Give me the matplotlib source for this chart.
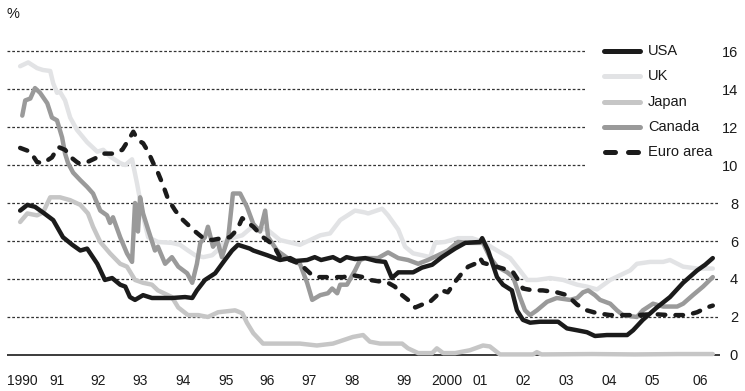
import matplotlib
matplotlib.use("Agg")
import matplotlib.pyplot as plt
from matplotlib.lines import Line2D

plt.rcParams['font.family'] = ['Liberation Sans', 'DejaVu Sans']

# Official / policy interest rates, %, by decimal year
usa_t = [1990.00, 1990.17, 1990.35, 1990.54, 1990.78, 1991.01, 1991.23, 1991.42, 1991.58, 1991.82,
         1992.00, 1992.17, 1992.36, 1992.48, 1992.59, 1992.71, 1992.90, 1993.11, 1993.35, 1993.58,
         1993.89, 1994.06, 1994.17, 1994.36, 1994.60, 1994.83, 1995.00, 1995.14, 1995.42, 1995.50,
         1995.83, 1996.13, 1996.37, 1996.50, 1996.77, 1996.95, 1997.10, 1997.38, 1997.55, 1997.70,
         1997.90, 1998.14, 1998.40, 1998.61, 1998.77, 1998.92, 1999.27, 1999.48, 1999.72, 1999.95,
         2000.26, 2000.50, 2000.85, 2000.90, 2001.04, 2001.25, 2001.39, 2001.60, 2001.72, 2001.86,
         2002.03, 2002.26, 2002.69, 2002.90, 2003.14, 2003.37, 2003.56, 2003.84, 2004.32, 2004.46,
         2004.69, 2005.02, 2005.33, 2005.64, 2005.97, 2006.16, 2006.34]
usa_v = [7.6, 7.9, 7.8, 7.5, 7.1, 6.2, 5.8, 5.5, 5.6, 4.8,
         3.95, 4.05, 3.7, 3.6, 3.05, 2.9, 3.15, 3.0, 3.0, 3.0,
         3.05, 3.0, 3.4, 3.95, 4.3, 5.0, 5.5, 5.8, 5.6, 5.5,
         5.25, 5.0, 5.1, 4.95, 5.0, 5.15, 5.0, 5.15, 4.95, 5.15,
         5.05, 5.1, 4.95, 4.9, 4.05, 4.35, 4.35, 4.6, 4.75, 5.15,
         5.6, 5.9, 5.95, 6.15, 5.5, 4.1, 3.7, 3.4, 2.35, 1.85,
         1.7, 1.75, 1.75, 1.4, 1.3, 1.2, 1.0, 1.05, 1.05, 1.3,
         1.85, 2.5, 3.05, 3.8, 4.45, 4.75, 5.1]

uk_t = [1990.00, 1990.19, 1990.40, 1990.54, 1990.71, 1990.78, 1990.87, 1990.94, 1991.06, 1991.18,
        1991.34, 1991.58, 1991.82, 1991.96, 1992.12, 1992.36, 1992.48, 1992.64, 1992.76, 1992.90,
        1993.02, 1993.25, 1993.58, 1993.77, 1993.96, 1994.13, 1994.32, 1994.53, 1994.65, 1994.83,
        1995.07, 1995.24, 1995.45, 1995.83, 1996.13, 1996.60, 1996.84, 1997.08, 1997.31, 1997.55,
        1997.90, 1998.14, 1998.21, 1998.54, 1998.68, 1998.92, 1999.08, 1999.27, 1999.48, 1999.67,
        1999.79, 2000.02, 2000.33, 2000.66, 2000.92, 2001.25, 2001.56, 2001.79, 2001.96, 2002.19,
        2002.50, 2002.81, 2003.14, 2003.37, 2003.61, 2003.92, 2004.39, 2004.55, 2004.86, 2005.17,
        2005.33, 2005.64, 2005.97, 2006.34]
uk_v = [15.2, 15.4, 15.1, 15.0, 14.95, 14.3, 13.8, 13.85, 13.4, 12.5,
        11.85, 11.2, 10.7, 10.8, 10.45, 10.1, 10.0, 10.3, 9.0, 7.3,
        6.2, 5.95, 5.9, 5.8, 5.5, 5.25, 5.15, 5.25, 5.5, 5.95,
        6.2, 6.3, 6.7, 6.6, 6.05, 5.8, 6.05, 6.3, 6.4, 7.1,
        7.6, 7.5, 7.45, 7.7, 7.35, 6.6, 5.7, 5.35, 5.25, 5.15,
        5.9, 5.95, 6.15, 6.15, 5.95, 5.5, 5.1, 4.45, 3.95, 3.95,
        4.05, 3.95, 3.7, 3.6, 3.45, 3.95, 4.45, 4.8, 4.9, 4.9,
        5.0, 4.65, 4.55, 4.55]

japan_t = [1990.00, 1990.17, 1990.40, 1990.54, 1990.71, 1990.94, 1991.18, 1991.42, 1991.60, 1991.72,
           1991.89, 1992.12, 1992.36, 1992.52, 1992.71, 1992.90, 1993.11, 1993.25, 1993.58, 1993.73,
           1993.96, 1994.20, 1994.43, 1994.67, 1995.07, 1995.24, 1995.35, 1995.50, 1995.73, 1996.20,
           1996.60, 1997.00, 1997.38, 1997.85, 1998.09, 1998.25, 1998.49, 1998.68, 1999.01, 1999.15,
           1999.39, 1999.72, 1999.83, 1999.98, 2000.26, 2000.61, 2000.92, 2001.08, 2001.32, 2002.10,
           2002.19, 2002.30, 2003.50, 2004.50, 2005.50, 2006.34]
japan_v = [7.0, 7.45, 7.35, 7.5, 8.3, 8.3, 8.15, 7.9, 7.45, 6.75,
           5.95, 5.35, 4.8, 4.65, 3.95, 3.8, 3.7, 3.4, 3.05, 2.5,
           2.1, 2.1, 2.0, 2.25, 2.35, 2.2, 1.7, 1.15, 0.6, 0.6,
           0.6, 0.5, 0.6, 0.95, 1.05, 0.7, 0.6, 0.6, 0.6, 0.35,
           0.1, 0.1, 0.35, 0.1, 0.1, 0.25, 0.5, 0.45, 0.03, 0.03,
           0.15, 0.03, 0.05, 0.03, 0.05, 0.05]

canada_t = [1990.05, 1990.12, 1990.24, 1990.35, 1990.47, 1990.64, 1990.75, 1990.87, 1990.99, 1991.06,
            1991.13, 1991.25, 1991.42, 1991.58, 1991.72, 1991.89, 1992.05, 1992.12, 1992.19, 1992.36,
            1992.52, 1992.64, 1992.71, 1992.78, 1992.83, 1992.90, 1993.02, 1993.18, 1993.25, 1993.42,
            1993.58, 1993.73, 1993.94, 1994.06, 1994.17, 1994.25, 1994.36, 1994.43, 1994.55, 1994.65,
            1994.76, 1994.91, 1995.02, 1995.19, 1995.35, 1995.50, 1995.66, 1995.78, 1995.85, 1996.06,
            1996.37, 1996.60, 1996.77, 1996.89, 1997.08, 1997.26, 1997.36, 1997.48, 1997.55, 1997.71,
            1997.90, 1998.02, 1998.14, 1998.44, 1998.68, 1998.92, 1999.15, 1999.39, 1999.62, 1999.86,
            2000.09, 2000.33, 2000.57, 2000.92, 2001.08, 2001.25, 2001.49, 2001.63, 2001.79, 2001.91,
            2002.03, 2002.19, 2002.43, 2002.66, 2002.97, 2003.14, 2003.28, 2003.40, 2003.56, 2003.68,
            2003.92, 2004.08, 2004.22, 2004.55, 2004.69, 2004.93, 2005.17, 2005.50, 2005.64, 2005.87,
            2006.11, 2006.34]
canada_v = [12.6, 13.4, 13.5, 14.05, 13.8, 13.25, 12.5, 12.35, 11.45, 10.6,
            10.1, 9.6, 9.2, 8.85, 8.5, 7.6, 7.35, 6.95, 7.25, 6.2,
            5.35, 4.9, 8.0, 6.5, 8.3, 7.45, 6.6, 5.5, 5.7, 4.8,
            5.15, 4.65, 4.3, 3.8, 4.8, 5.9, 6.2, 6.75, 5.7, 6.05,
            5.15, 6.2, 8.5, 8.5, 7.8, 6.9, 6.5, 7.6, 6.2, 5.5,
            5.0, 4.8, 3.8, 2.9, 3.15, 3.25, 3.5, 3.25, 3.7, 3.7,
            4.45, 5.0, 5.1, 5.1, 5.4, 5.1, 5.0, 4.8, 5.0, 5.25,
            5.5, 5.95, 5.9, 5.9, 5.15, 4.65, 4.35, 4.1, 3.05, 2.35,
            2.1, 2.35, 2.8, 3.0, 2.9, 3.0, 3.3, 3.4, 3.15, 2.9,
            2.7, 2.35, 2.1, 2.0, 2.35, 2.7, 2.55, 2.55, 2.7, 3.15,
            3.6, 4.1]

euro_t = [1990.00, 1990.24, 1990.40, 1990.54, 1990.75, 1990.90, 1991.06, 1991.23, 1991.37, 1991.58,
          1991.77, 1991.96, 1992.19, 1992.41, 1992.55, 1992.67, 1992.78, 1992.90, 1993.02, 1993.14,
          1993.25, 1993.37, 1993.49, 1993.66, 1993.82, 1994.01, 1994.13, 1994.32, 1994.53, 1994.76,
          1994.95, 1995.12, 1995.24, 1995.35, 1995.50, 1995.73, 1995.97, 1996.13, 1996.37, 1996.60,
          1996.84, 1997.00, 1997.31, 1997.62, 1997.85, 1998.09, 1998.25, 1998.54, 1998.68, 1998.84,
          1999.01, 1999.15, 1999.32, 1999.48, 1999.62, 1999.79, 1999.95, 2000.09, 2000.26, 2000.42,
          2000.57, 2000.73, 2000.85, 2000.92, 2001.08, 2001.39, 2001.63, 2001.79, 2001.86, 2002.10,
          2002.33, 2002.66, 2002.90, 2003.14, 2003.37, 2003.61, 2003.92, 2004.22, 2004.55, 2004.93,
          2005.33, 2005.73, 2005.97, 2006.20, 2006.34]
euro_v = [10.9, 10.7, 10.15, 10.1, 10.4, 10.95, 10.8, 10.35, 10.1, 10.15,
          10.35, 10.6, 10.6, 10.8, 11.3, 11.75, 11.3, 11.15, 10.7, 10.1,
          9.6, 8.95, 8.2, 7.6, 7.15, 6.75, 6.5, 6.15, 6.05, 6.15,
          6.2, 6.6, 7.2, 7.0, 6.75, 6.2, 5.8, 5.15, 5.0, 4.8,
          4.3, 4.1, 4.1, 4.1, 4.2, 4.1, 3.95, 3.85, 3.8, 3.6,
          3.15, 2.9, 2.5, 2.65, 2.7, 3.05, 3.4, 3.3, 3.85, 4.3,
          4.65, 4.8, 5.1, 4.85, 4.75, 4.55, 4.35, 3.8, 3.5, 3.4,
          3.4, 3.3, 3.15, 2.65, 2.35, 2.2, 2.1, 2.1, 2.1, 2.15,
          2.1, 2.1, 2.25, 2.5, 2.6]

year_labels = ["1990", "91", "92", "93", "94", "95", "96", "97", "98",
               "99", "2000", "01", "02", "03", "04", "05", "06"]
label_pos = [1990.05, 1990.87, 1991.84, 1992.83, 1993.84, 1994.86, 1995.83, 1996.82, 1997.83,
             1999.06, 2000.07, 2000.85, 2001.86, 2002.88, 2003.89, 2004.91, 2006.04]
y_ticks = [0, 2, 4, 6, 8, 10, 12, 14, 16]

series = [
    ("USA", usa_t, usa_v, "#1b1b1b", "-"),
    ("UK", uk_t, uk_v, "#e2e3e5", "-"),
    ("Japan", japan_t, japan_v, "#c6c6c6", "-"),
    ("Canada", canada_t, canada_v, "#9a9a9a", "-"),
    ("Euro area", euro_t, euro_v, "#1b1b1b", (0, (1.7, 2.3))),
]
zorders = {"UK": 3, "Japan": 4, "Canada": 5, "USA": 6, "Euro area": 7}

fig = plt.figure(figsize=(7.45, 3.91), dpi=100)
ax = fig.add_axes([7 / 745, 0.0678, 713 / 745, 0.826])
ax.set_xlim(1989.69, 2006.51)
ax.set_ylim(-0.5, 16.5)

# dotted gridlines; the upper ones stop short of the legend
for y in y_ticks[1:]:
    xmax = 0.81 if y >= 10 else 1.0
    ax.axhline(y, xmin=0, xmax=xmax, color="#333333", lw=0.9,
               linestyle=(0, (2.2, 1.6)), zorder=1)
ax.axhline(0, color="#1a1a1a", lw=1.2, zorder=2)

for name, t, v, col, ls in series:
    ax.plot(t, v, color=col, lw=3.2, linestyle=ls, solid_capstyle="round",
            dash_capstyle="round", solid_joinstyle="round", zorder=zorders[name])

for s in ax.spines.values():
    s.set_visible(False)

ax.set_xticks(label_pos, year_labels)
ax.tick_params(axis="x", length=0, pad=7, labelsize=10, colors="#1a1a1a")

ax.yaxis.tick_right()
ax.set_yticks(y_ticks, [str(y) for y in y_ticks])
ax.tick_params(axis="y", length=0, pad=13, labelsize=10.5, colors="#1a1a1a")
for lab in ax.get_yticklabels():
    lab.set_horizontalalignment("right")

fig.text(7 / 745, 1 - 14 / 391, "%", fontsize=10.5, color="#1a1a1a", va="center", ha="left")

# legend, drawn by hand in figure pixels
rows = [51, 76, 102, 127, 152]
for (name, t, v, col, ls), ry in zip(series, rows):
    yf = 1 - ry / 391
    if name == "Euro area":
        for x0, x1 in [(605, 615), (628, 638)]:
            fig.add_artist(Line2D([x0 / 745, x1 / 745], [yf, yf], color=col, lw=3.6,
                                  solid_capstyle="round"))
    else:
        fig.add_artist(Line2D([604 / 745, 640 / 745], [yf, yf], color=col, lw=3.6,
                              solid_capstyle="round"))
    fig.text(648 / 745, yf, name, fontsize=10.5, color="#1a1a1a", va="center", ha="left")

fig.savefig("out.png", dpi=100)
